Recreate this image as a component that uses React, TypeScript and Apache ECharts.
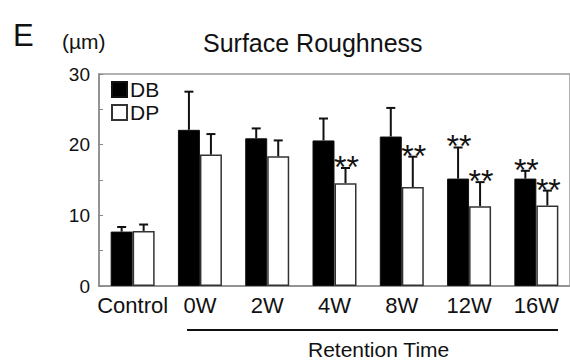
import React, { useEffect, useRef } from "react";
import * as echarts from "echarts";

const categories = ["Control", "0W", "2W", "4W", "8W", "12W", "16W"];
const dbMean = [7.7, 22.1, 20.9, 20.6, 21.15, 15.2, 15.2];
const dbSD = [0.65, 5.4, 1.4, 3.1, 4.05, 4.4, 1.1];
const dpMean = [7.8, 18.6, 18.35, 14.55, 14.0, 11.3, 11.4];
const dpSD = [0.9, 2.9, 2.25, 2.15, 4.3, 3.4, 2.1];
const dbSig = ["", "", "", "", "", "**", "**"];
const dpSig = ["", "", "", "**", "**", "**", "**"];
const yTickLabels = [0, 10, 20, 30];

const FONT = "Liberation Sans, Arial, sans-serif";
const BAR_W = 22;

function errorSeries(name: string, means: number[], sds: number[], sigs: string[], side: number) {
  return {
    type: "custom",
    name,
    z: 5,
    silent: true,
    data: means.map((m, i) => [i, m, sds[i]]),
    renderItem: (params: any, api: any) => {
      const i = api.value(0);
      const m = api.value(1);
      const sd = api.value(2);
      const p0 = api.coord([i, m]);
      const p1 = api.coord([i, m + sd]);
      const x = p0[0] + (side * BAR_W) / 2;
      const children: any[] = [
        { type: "line", shape: { x1: x, y1: p0[1], x2: x, y2: p1[1] }, style: { stroke: "#111", lineWidth: 2 } },
        { type: "line", shape: { x1: x - 4.5, y1: p1[1], x2: x + 4.5, y2: p1[1] }, style: { stroke: "#111", lineWidth: 2 } },
      ];
      const s = sigs[params.dataIndex];
      if (s) {
        children.push({
          type: "text",
          style: {
            text: s,
            x: x + 1,
            y: p1[1] - 1,
            fontSize: 32,
            fontFamily: FONT,
            fill: "#111",
            align: "center",
            verticalAlign: "middle",
          },
        });
      }
      return { type: "group", children };
    },
  };
}

export default function App() {
  const ref = useRef<HTMLDivElement>(null);
  useEffect(() => {
    const chart = echarts.init(ref.current!, null, { renderer: "svg" });
    chart.setOption({
      animation: false,
      backgroundColor: "#fff",
      grid: { left: 99, top: 74, height: 212, width: 476, show: true, borderColor: "#999", borderWidth: 1.5, backgroundColor: "transparent" },
      legend: {
        left: 106,
        top: 74,
        orient: "vertical",
        icon: "rect",
        itemWidth: 15,
        itemHeight: 15,
        itemGap: 2,
        data: ["DB", "DP"],
        textStyle: { fontSize: 21, fontFamily: FONT, color: "#111", padding: [0, 0, 0, -2] },
      },
      xAxis: {
        type: "category",
        data: categories,
        axisLine: { lineStyle: { color: "#888", width: 1.5 } },
        axisTick: { inside: true, length: 5, interval: 0, lineStyle: { color: "#888" } },
        axisLabel: { interval: 0, fontSize: 22, fontFamily: FONT, color: "#111", margin: 8 },
      },
      yAxis: {
        type: "value",
        min: 0,
        max: 30,
        interval: 5,
        splitLine: { show: false },
        axisLine: { show: true, lineStyle: { color: "#888", width: 1.5 } },
        axisTick: { show: true, inside: true, length: 4, lineStyle: { color: "#888" } },
        axisLabel: {
          fontSize: 19,
          fontFamily: FONT,
          color: "#111",
          margin: 9,
          formatter: (v: number) => (yTickLabels.includes(v) ? String(v) : ""),
        },
      },
      series: [
        { type: "bar", name: "DB", data: dbMean, barWidth: BAR_W, barGap: "0%", itemStyle: { color: "#000", borderColor: "#111", borderWidth: 1 } },
        { type: "bar", name: "DP", data: dpMean, barWidth: BAR_W, barGap: "0%", itemStyle: { color: "#fff", borderColor: "#333", borderWidth: 1.5 } },
        errorSeries("errDB", dbMean, dbSD, dbSig, -1),
        errorSeries("errDP", dpMean, dpSD, dpSig, 1),
      ],
      graphic: [
        { type: "text", left: 13, top: 20, style: { text: "E", fontSize: 31, fontFamily: FONT, fill: "#111" } },
        { type: "text", left: 62, top: 31, style: { text: "(µm)", fontSize: 21, fontFamily: FONT, fill: "#111" } },
        { type: "text", left: 203, top: 30, style: { text: "Surface Roughness", fontSize: 25, fontFamily: FONT, fill: "#111" } },
        { type: "line", shape: { x1: 187, y1: 330, x2: 558, y2: 330 }, style: { stroke: "#111", lineWidth: 2 } },
        { type: "text", left: 308, top: 339, style: { text: "Retention Time", fontSize: 21, fontFamily: FONT, fill: "#111" } },
      ],
    });
    return () => chart.dispose();
  }, []);
  return <div ref={ref} style={{ position: "fixed", left: 0, top: 0, width: 570, height: 363 }} />;
}
